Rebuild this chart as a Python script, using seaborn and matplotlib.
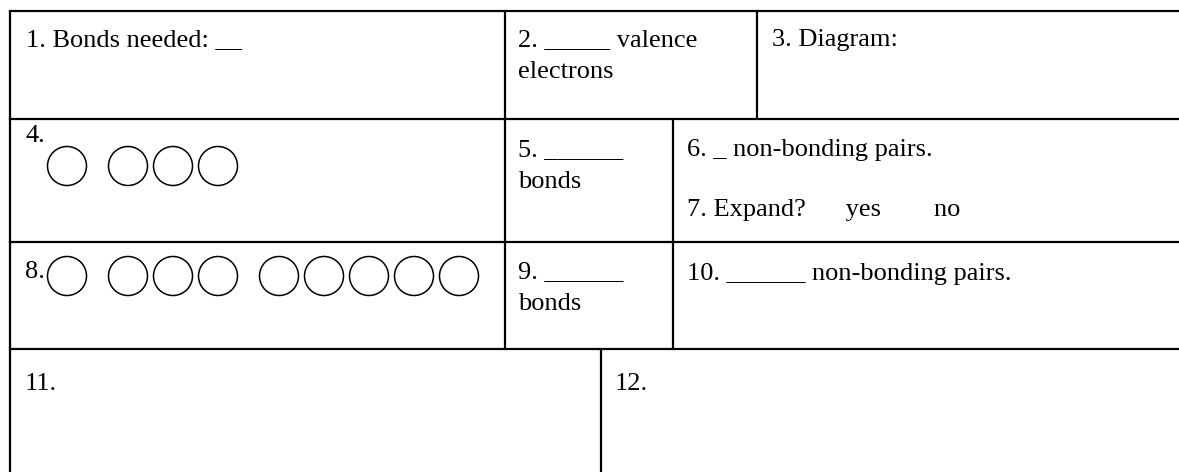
import matplotlib.pyplot as plt
import seaborn as sns
import pandas as pd

# texts of the worksheet cells (one entry per cell, lines split by \n)
cell_texts = ["1. Bonds needed: __",
              "2. _____ valence\nelectrons",
              "3. Diagram:",
              "4.",
              "5. ______\nbonds",
              "6. _ non-bonding pairs.",
              "7. Expand?      yes        no",
              "8.",
              "9. ______\nbonds",
              "10. ______ non-bonding pairs.",
              "11.",
              "12."]

# electron boxes (circles) per group
orbitals_q4 = [1, 3]
orbitals_q8 = [1, 3, 5]

sns.set_style("white")
plt.rcParams['font.family'] = ['Liberation Serif', 'DejaVu Serif']

fig = plt.figure(figsize=(11.79, 4.72), dpi=100)
ax = fig.add_axes([0, 0, 1, 1])
ax.set_xlim(0, 1179)
ax.set_ylim(472, 0)
ax.axis('off')

lw = 1.6
# table lines
for y in [11, 119, 242, 349]:
    ax.plot([10, 1190], [y, y], color='black', lw=lw, solid_capstyle='projecting')
ax.plot([10, 10], [11, 480], color='black', lw=lw)
ax.plot([505, 505], [11, 349], color='black', lw=lw)
ax.plot([757, 757], [11, 119], color='black', lw=lw)
ax.plot([673, 673], [119, 349], color='black', lw=lw)
ax.plot([601, 601], [349, 480], color='black', lw=lw)

# where each cell text starts (x, baseline of first line)
text_pos = [(26, 46), (518, 46), (772, 46), (25, 142), (518, 156), (687, 156),
            (687, 216), (25, 278), (518, 278), (687, 280), (25, 390), (615, 390)]
line_gap = 32
for t, (x, y) in zip(cell_texts, text_pos):
    for k, line in enumerate(t.split('\n')):
        ax.text(x, y + k * line_gap, line, fontsize=19, color='black',
                va='baseline', ha='left')


def circle_frame(groups, y, x0=67, step=45, gap=16):
    xs, ys = [], []
    x = x0
    for g in groups:
        for i in range(g):
            xs.append(x)
            ys.append(y)
            x += step
        x += gap
    return pd.DataFrame({'x': xs, 'y': ys})


circles = pd.concat([circle_frame(orbitals_q4, 166), circle_frame(orbitals_q8, 276)])
sns.scatterplot(data=circles, x='x', y='y', ax=ax, s=(39 * 0.72) ** 2,
                facecolor='none', edgecolor='black', linewidth=1.1, legend=False)

fig.savefig('out.png', dpi=100)
